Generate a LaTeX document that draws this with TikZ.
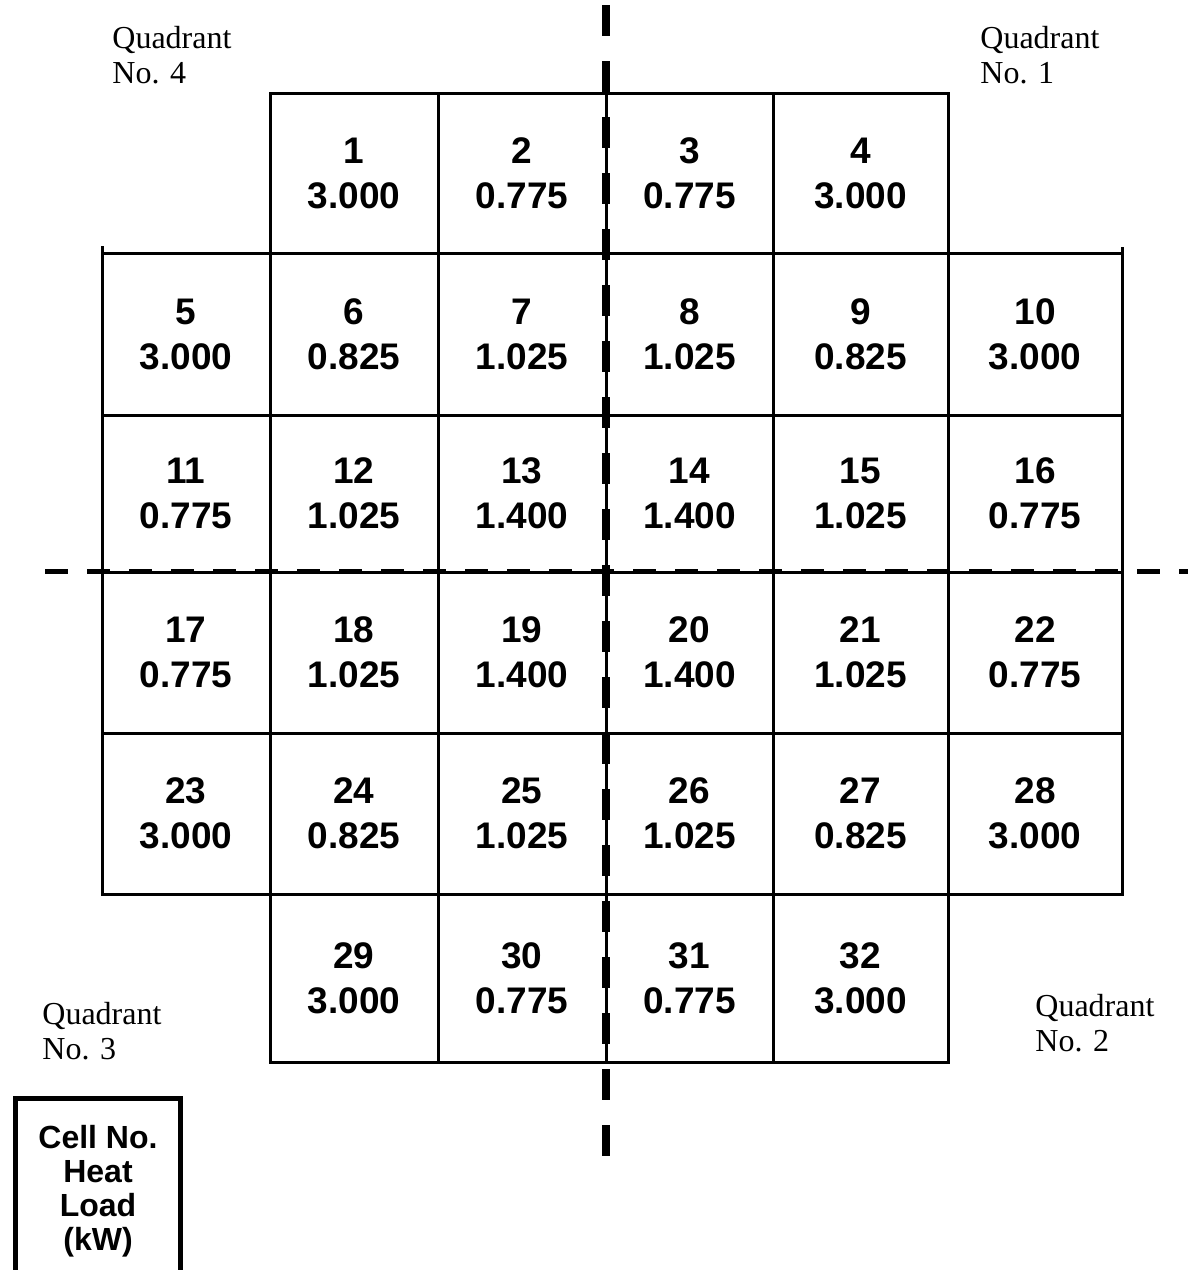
\documentclass[tikz,border=0pt]{standalone}
\usepackage{fontspec}
\setmainfont{Liberation Serif}
\setsansfont{Liberation Sans}
\usetikzlibrary{positioning}

\tikzset{
  cell/.style={font=\sffamily\bfseries\fontsize{18.5}{22.5}\selectfont, align=center},
  quad/.style={font=\fontsize{16}{17.5}\selectfont, align=left, anchor=base west, inner sep=0pt},
  gridline/.style={line width=1.5pt},
}

\begin{document}
\begin{tikzpicture}[x=0.5pt,y=-0.5pt]
\useasboundingbox (0,0) rectangle (1188,1270);

% top row
\draw[gridline] (270,253) -- (270,93) -- (948,93) -- (948,253);
\foreach \x in {438,606,773} \draw[gridline] (\x,93) -- (\x,253);

% middle block
\draw[gridline] (102,246) -- (102,894) -- (1122,894) -- (1122,247);
\foreach \y in {253,415,572,733} \draw[gridline] (102,\y) -- (1122,\y);
\foreach \x in {270,438,606,773,948} \draw[gridline] (\x,253) -- (\x,894);

% bottom row
\draw[gridline] (270,894) -- (270,1062) -- (948,1062) -- (948,894);
\foreach \x in {438,606,773} \draw[gridline] (\x,894) -- (\x,1062);

% cell no. / heat load
\foreach \n/\x/\q in {1/354/3.000,2/522/0.775,3/689.5/0.775,4/860.5/3.000}
  \node[cell] (c\n) at (\x,173) {\n\\\q};
\foreach \n/\x/\q in {5/186/3.000,6/354/0.825,7/522/1.025,8/689.5/1.025,9/860.5/0.825,10/1035/3.000}
  \node[cell] (c\n) at (\x,334) {\n\\\q};
\foreach \n/\x/\q in {11/186/0.775,12/354/1.025,13/522/1.400,14/689.5/1.400,15/860.5/1.025,16/1035/0.775}
  \node[cell] (c\n) at (\x,493.5) {\n\\\q};
\foreach \n/\x/\q in {17/186/0.775,18/354/1.025,19/522/1.400,20/689.5/1.400,21/860.5/1.025,22/1035/0.775}
  \node[cell] (c\n) at (\x,652.5) {\n\\\q};
\foreach \n/\x/\q in {23/186/3.000,24/354/0.825,25/522/1.025,26/689.5/1.025,27/860.5/0.825,28/1035/3.000}
  \node[cell] (c\n) at (\x,813.5) {\n\\\q};
\foreach \n/\x/\q in {29/354/3.000,30/522/0.775,31/689.5/0.775,32/860.5/3.000}
  \node[cell] (c\n) at (\x,978) {\n\\\q};

% quadrant axes
\draw[line width=4pt, dash pattern=on 15.5pt off 12.5pt] (606,5) -- (606,1157);
\draw[line width=2.5pt, dash pattern=on 11.5pt off 9.5pt] (45,571) -- (1188,571);

\node[quad] (q4) at (112,83) {Quadrant\\No. 4};
\node[quad] (q1) at (980,83) {Quadrant\\No. 1};
\node[quad] (q3) at (42,1059) {Quadrant\\No. 3};
\node[quad] (q2) at (1035,1051) {Quadrant\\No. 2};

% legend
\node[draw, line width=2.5pt, minimum width=82.5pt, minimum height=92.5pt, inner sep=0pt,
      font=\sffamily\bfseries\fontsize{16}{17}\selectfont, align=center]
  (legend) at (98,1191) {Cell No.\\Heat\\Load\\(kW)};
\end{tikzpicture}
\end{document}
